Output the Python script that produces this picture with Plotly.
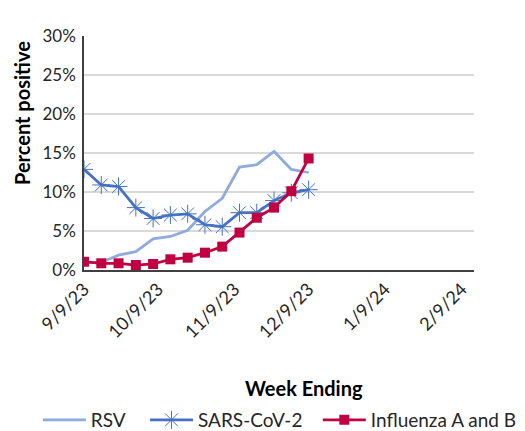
import plotly.graph_objects as go
import pandas as pd

weeks = pd.date_range("2023-09-09", periods=14, freq="7D")
rsv = [0.9, 1.0, 1.9, 2.35, 4.0, 4.3, 5.1, 7.5, 9.2, 13.2, 13.5, 15.2, 12.9, 12.5]
sars = [12.9, 10.9, 10.7, 8.0, 6.6, 7.05, 7.2, 5.8, 5.55, 7.35, 7.35, 8.9, 9.9, 10.3]
flu = [1.06, 0.86, 0.86, 0.64, 0.77, 1.37, 1.58, 2.22, 3.0, 4.8, 6.7, 8.0, 10.1, 14.3]

series_names = ["RSV", "SARS-CoV-2", "Influenza A and B"]
tick_dates = ["2023-09-09", "2023-10-09", "2023-11-09", "2023-12-09", "2024-01-09", "2024-02-09"]
tick_text = ["9/9/23", "10/9/23", "11/9/23", "12/9/23", "1/9/24", "2/9/24"]
y_ticks = [0, 5, 10, 15, 20, 25, 30]
y_text = ["0%", "5%", "10%", "15%", "20%", "25%", "30%"]

font = "Lato"
fig = go.Figure()
fig.add_trace(go.Scatter(x=weeks, y=rsv, name=series_names[0], mode="lines",
                         legend="legend",
                         line=dict(color="#8FAADC", width=2.75)))
fig.add_trace(go.Scatter(x=weeks, y=sars, name=series_names[1], mode="lines+markers",
                         legend="legend2",
                         line=dict(color="#4472C4", width=2.75),
                         marker=dict(symbol="asterisk-open", size=15,
                                     line=dict(color="#4472C4", width=1))))
fig.add_trace(go.Scatter(x=weeks, y=flu, name=series_names[2], mode="lines+markers",
                         legend="legend3",
                         line=dict(color="#C00040", width=2.75),
                         marker=dict(symbol="square", size=10, color="#C00040")))

leg_common = dict(orientation="h", xanchor="left", y=-0.641, yanchor="middle",
                  itemwidth=43, font=dict(size=19, color="#262626"),
                  bgcolor="rgba(0,0,0,0)")

fig.update_layout(
    width=525, height=445,
    margin=dict(l=76, r=58, t=28, b=183),
    plot_bgcolor="white", paper_bgcolor="white",
    font=dict(family=font, size=17, color="#404040"),
    showlegend=True,
    legend=dict(x=-0.118, **leg_common),
    legend2=dict(x=0.156, **leg_common),
    legend3=dict(x=0.598, **leg_common),
    annotations=[
        dict(text="<b>Week Ending</b>", xref="paper", yref="paper", x=0.563, y=-0.504,
             xanchor="center", yanchor="middle", showarrow=False,
             font=dict(size=20, color="#000000", family=font)),
        dict(text="<b>Percent positive</b>", xref="paper", yref="paper", x=-0.159, y=0.671,
             xanchor="center", yanchor="middle", showarrow=False, textangle=-90,
             font=dict(size=20, color="#000000", family=font)),
    ],
)
fig.update_xaxes(
    type="date", range=["2023-09-09", "2024-02-14"], automargin=False,
    tickvals=tick_dates, ticktext=tick_text, tickangle=-45,
    tickfont=dict(size=18, color="#262626"),
    showline=True, linecolor="#404040", linewidth=1.5, showgrid=False,
    ticks="", zeroline=False,
)
fig.update_yaxes(
    range=[0, 30], tickvals=y_ticks, ticktext=y_text, automargin=False,
    tickfont=dict(size=17, color="#262626"), ticklabelstandoff=3,
    showline=True, linecolor="#404040", linewidth=1.5,
    showgrid=True, gridcolor="#D9D9D9", gridwidth=1.5, zeroline=False, ticks="",
)
fig.write_html("out.html")
